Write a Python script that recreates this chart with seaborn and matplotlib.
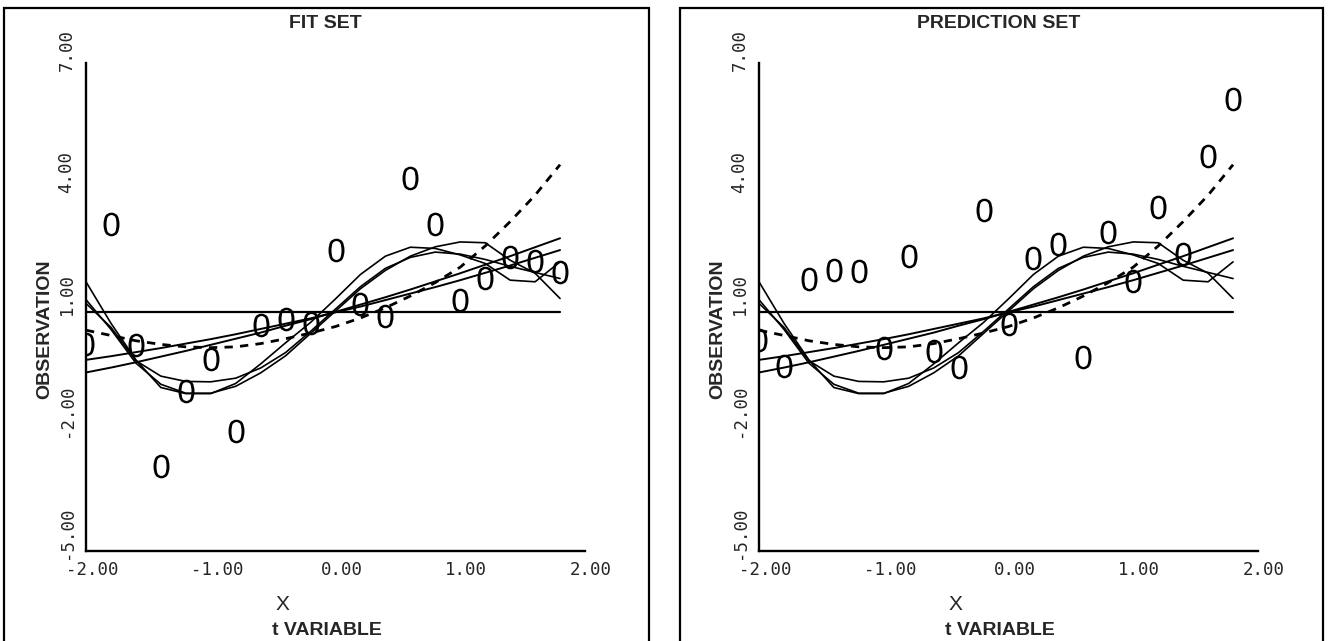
import numpy as np
import pandas as pd
import seaborn as sns
import matplotlib.pyplot as plt
import matplotlib.transforms as mtransforms
from matplotlib.patches import Rectangle

# observation positions (both sets share the same x grid)
X_OBS = [-2.0, -1.8, -1.6, -1.4, -1.2, -1.0, -0.8, -0.6, -0.4, -0.2,
         0.0, 0.2, 0.4, 0.6, 0.8, 1.0, 1.2, 1.4, 1.6, 1.8]
FIT_OBS = [0.10, 3.03, 0.06, -2.91, -1.07, -0.29, -2.05, 0.56, 0.71, 0.61,
           2.40, 1.07, 0.79, 4.16, 3.05, 1.17, 1.72, 2.22, 2.14, 1.87]
PRED_OBS = [0.18, -0.46, 1.70, 1.90, 1.88, -0.02, 2.26, -0.08, -0.48, 3.39,
            0.57, 2.20, 2.56, -0.23, 2.84, 1.65, 3.45, 2.30, 4.71, 6.11]

CURVE_X = X_OBS
MEAN_X = [-2.0, 1.8]
MEAN_Y = [0.88, 0.88]
LINE1_Y = [-0.61, -0.49, -0.36, -0.22, -0.08, 0.07, 0.22, 0.37, 0.54, 0.70,
           0.88, 1.06, 1.24, 1.43, 1.63, 1.83, 2.04, 2.25, 2.47, 2.69]
LINE2_Y = [-0.30, -0.21, -0.11, -0.01, 0.10, 0.21, 0.33, 0.46, 0.59, 0.72,
           0.87, 1.01, 1.17, 1.33, 1.49, 1.66, 1.84, 2.02, 2.21, 2.40]
QUAD_Y = [0.43, 0.30, 0.17, 0.08, 0.02, 0.00, 0.02, 0.10, 0.22, 0.36,
          0.52, 0.73, 0.98, 1.27, 1.60, 1.98, 2.50, 3.10, 3.75, 4.50]
WAVE1_Y = [1.62, 0.60, -0.30, -0.98, -1.13, -1.13, -0.88, -0.40, 0.12, 0.62,
           1.20, 1.80, 2.25, 2.47, 2.44, 2.28, 2.07, 1.66, 1.62, 2.11]
WAVE2_Y = [1.18, 0.45, -0.38, -0.90, -1.12, -1.12, -0.95, -0.62, -0.20, 0.35,
           0.90, 1.45, 1.90, 2.25, 2.48, 2.60, 2.58, 2.15, 1.83, 1.21]
WAVE3_Y = [1.09, 0.50, -0.32, -0.70, -0.83, -0.84, -0.75, -0.50, -0.12, 0.40,
           0.95, 1.50, 1.95, 2.22, 2.35, 2.30, 2.17, 2.00, 1.85, 1.70]

X_TICKS = [-2, -1, 0, 1, 2]
Y_TICKS = [-5, -2, 1, 4, 7]
TITLES = ["FIT SET", "PREDICTION SET"]

sns.set_style("white")
plt.rcParams["font.family"] = ["Liberation Sans", "DejaVu Sans"]
plt.rcParams["mathtext.fontset"] = "custom"
plt.rcParams["mathtext.rm"] = "Liberation Sans"

W, H = 1329, 641
fig = plt.figure(figsize=(W / 100, H / 100), dpi=100)

# outer frames round each panel
for x0, x1 in [(4, 649), (680, 1323)]:
    fig.patches.append(Rectangle((x0 / W, -0.02), (x1 - x0) / W, 1 - 8 / H + 0.02,
                                 transform=fig.transFigure, fill=False,
                                 edgecolor="black", linewidth=1.6))

panels = [(86, FIT_OBS), (759, PRED_OBS)]
for (left_px, obs), title in zip(panels, TITLES):
    ax = fig.add_axes([left_px / W, 90 / H, 499 / W, 488 / H])

    curves = pd.DataFrame({"x": CURVE_X, "l1": LINE1_Y, "l2": LINE2_Y,
                           "quad": QUAD_Y, "w1": WAVE1_Y, "w2": WAVE2_Y,
                           "w3": WAVE3_Y})
    sns.lineplot(x=MEAN_X, y=MEAN_Y, ax=ax, color="black", lw=1.6)
    for col in ["l1", "l2"]:
        sns.lineplot(data=curves, x="x", y=col, ax=ax, color="black", lw=1.4,
                     sort=False, estimator=None)
    for col in ["w1", "w2", "w3"]:
        sns.lineplot(data=curves, x="x", y=col, ax=ax, color="black", lw=1.2,
                     sort=False, estimator=None)
    sns.lineplot(data=curves, x="x", y="quad", ax=ax, color="black", lw=2.0,
                 linestyle=(0, (3.0, 2.6)), sort=False, estimator=None)

    pts = pd.DataFrame({"x": X_OBS, "y": obs})
    sns.scatterplot(data=pts, x="x", y="y", ax=ax, marker="$0$", s=290,
                    color="black", linewidth=0, zorder=5)

    ax.set_xlim(-2, 2)
    ax.set_ylim(-5, 7)
    sns.despine(ax=ax)
    for s in ["left", "bottom"]:
        ax.spines[s].set_linewidth(1.7)
        ax.spines[s].set_color("black")
    ax.set_xticks(X_TICKS)
    ax.set_yticks(Y_TICKS)
    ax.set_xticklabels([f"{v:.2f}" for v in X_TICKS], family="DejaVu Sans Mono",
                       fontsize=12.5)
    ax.set_yticklabels([f"{v:.2f}" for v in Y_TICKS], family="DejaVu Sans Mono",
                       fontsize=12.5, rotation=90, va="bottom")
    ax.tick_params(direction="inout", length=9, width=1.4, color="black", pad=3)
    # labels in the original sit a little right of / below their ticks
    shift_x = mtransforms.ScaledTranslation(6 / 100, 0, fig.dpi_scale_trans)
    shift_y = mtransforms.ScaledTranslation(0, -8 / 100, fig.dpi_scale_trans)
    for lab in ax.get_xticklabels():
        lab.set_transform(lab.get_transform() + shift_x)
    for lab in ax.get_yticklabels():
        lab.set_transform(lab.get_transform() + shift_y)

    ax.set_xlabel("X", fontsize=15)
    ax.xaxis.set_label_coords(0.393, -0.11)
    ax.xaxis.label.set_va("center")
    ax.set_ylabel("OBSERVATION", fontsize=14, fontweight="bold")
    ax.yaxis.set_label_coords(-0.082, 0.455)
    ax.yaxis.label.set_va("center")
    ax.text(0.482, -0.162, "t VARIABLE", transform=ax.transAxes, ha="center",
            va="center", fontsize=14, fontweight="bold")
    ax.text(0.48, 1.08, title, transform=ax.transAxes, ha="center",
            va="center", fontsize=14, fontweight="bold")

fig.savefig("out.png", dpi=100, facecolor="white")
